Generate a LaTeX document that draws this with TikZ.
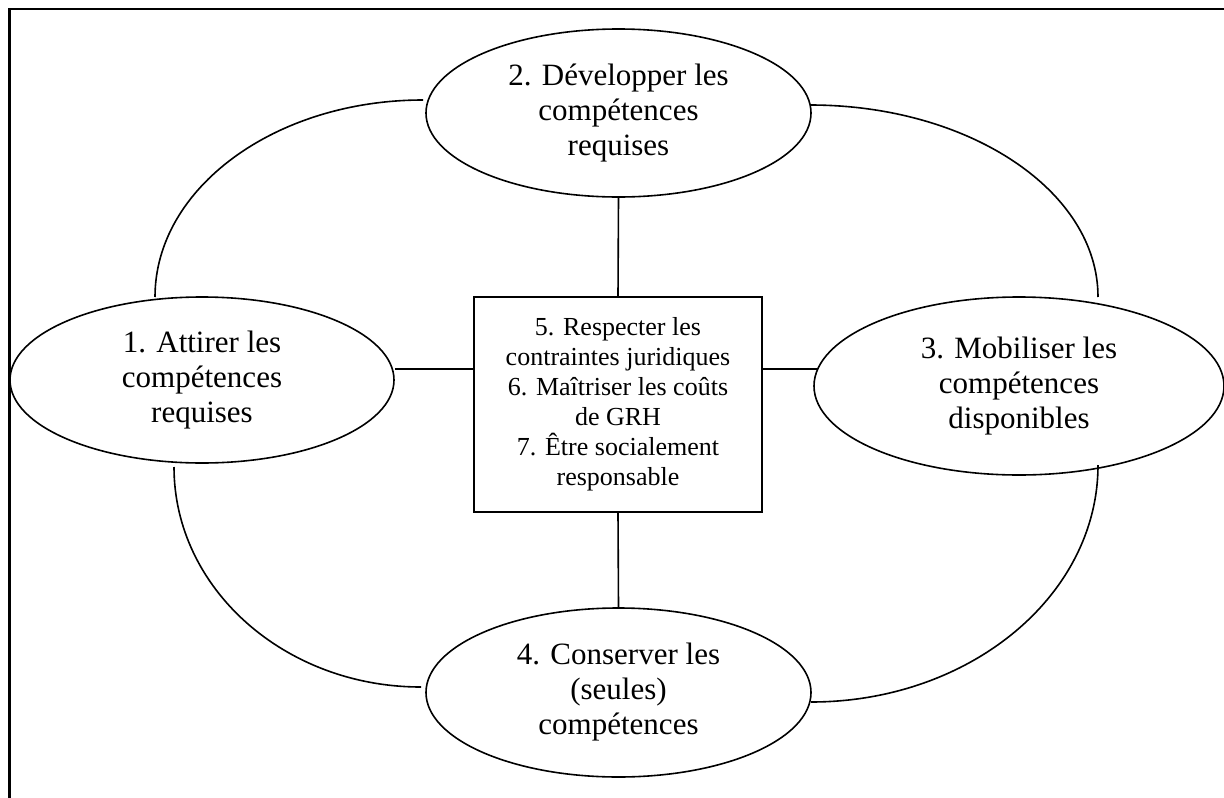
\documentclass[tikz,border=0pt]{standalone}
\usepackage{fontspec}
\setmainfont{Liberation Serif}
\usetikzlibrary{shapes.geometric}
\begin{document}
\begin{tikzpicture}[x=1pt,y=1pt,
  every path/.style={line width=1.6pt},
  ell/.style={draw, ellipse, inner sep=0pt, align=center,
    font=\fontsize{31}{35}\selectfont},
  centerbox/.style={draw, rectangle, inner sep=0pt, align=center,
    minimum width=288pt, minimum height=215pt,
    font=\fontsize{26}{30}\selectfont},
  frameline/.style={line width=2.4pt}]
\useasboundingbox (0,0) rectangle (1224,-798);
% frame
\draw[frameline] (1224,-9) -- (9.5,-9) -- (9.5,-798);
% nodes
\node[ell, minimum width=385pt, minimum height=168pt] (e2) at (618.5,-113)
  {2. Développer les\\compétences\\requises};
\node[ell, minimum width=384pt, minimum height=166pt] (e1) at (202,-380)
  {1. Attirer les\\compétences\\requises};
\node[ell, minimum width=410pt, minimum height=178pt] (e3) at (1019,-386)
  {3. Mobiliser les\\compétences\\disponibles};
\node[ell, minimum width=385pt, minimum height=169pt] (e4) at (618.5,-692.5)
  {4. Conserver les\\(seules)\\compétences};
\node[centerbox] (box) at (618,-404.5)
  {5. Respecter les\\contraintes juridiques\\6. Maîtriser les coûts\\de GRH\\7. Être socialement\\responsable};
% straight connectors
\coordinate (hy) at (0,-369);
\draw (e2.south) -- (box.north);
\draw (box.south) -- (e4.north);
\draw (e1.east |- hy) -- (box.west |- hy);
\draw (box.east |- hy) -- (817,-369);
% curved connectors (quarter ellipses)
\coordinate (a1) at (155,-297);
\coordinate (a2) at (810,-105);
\coordinate (a3) at (174,-467);
\coordinate (a4) at (811,-702);
\draw (a1) arc[start angle=180, end angle=90, x radius=268, y radius=197];
\draw (a2) arc[start angle=90, end angle=0, x radius=288, y radius=192];
\draw (a3) arc[start angle=180, end angle=270, x radius=247, y radius=220];
\draw (a4) arc[start angle=270, end angle=360, x radius=287, y radius=237];
\end{tikzpicture}
\end{document}
